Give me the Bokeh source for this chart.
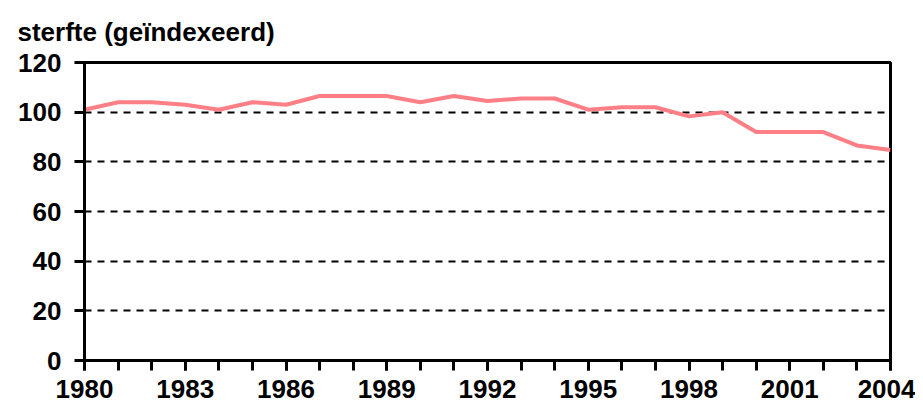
from bokeh.plotting import figure
from bokeh.models import Range1d, SingleIntervalTicker
from bokeh.embed import file_html
from bokeh.resources import INLINE

years = list(range(1980, 2005))
sterfte = [101, 104, 104, 103, 101, 104, 103, 106.5, 106.5, 106.5, 104, 106.5, 104.5,
           105.5, 105.5, 101, 102, 102, 98.3, 100, 92, 92, 92, 86.6, 84.8]
title_text = "sterfte (geïndexeerd)"

FONT = "Liberation Sans"

p = figure(width=915, height=404, output_backend="svg", toolbar_location=None,
           x_range=Range1d(1980, 2004), y_range=Range1d(0, 120),
           min_border_left=84, min_border_right=25, min_border_top=62, min_border_bottom=44)
p.background_fill_color = "white"
p.border_fill_color = "white"
p.outline_line_color = "black"
p.outline_line_width = 3

p.title.text = title_text
p.title.align = "left"
p.title.vertical_align = "top"
p.title.offset = -67
p.title.text_font = FONT
p.title.text_font_size = "26px"
p.title.text_font_style = "bold"
p.title.text_color = "black"
p.title.standoff = 27

p.line(years, sterfte, line_color="#FF7F86", line_width=4)

p.xaxis.ticker = SingleIntervalTicker(interval=3, num_minor_ticks=3)
p.yaxis.ticker = SingleIntervalTicker(interval=20, num_minor_ticks=0)

for ax in (p.xaxis, p.yaxis):
    ax.axis_line_color = "black"
    ax.axis_line_width = 3
    ax.major_tick_line_color = "black"
    ax.major_tick_line_width = 3
    ax.major_tick_out = 10
    ax.major_tick_in = 0
    ax.minor_tick_line_color = "black"
    ax.minor_tick_line_width = 3
    ax.minor_tick_out = 10
    ax.minor_tick_in = 0
    ax.major_label_text_font = FONT
    ax.major_label_text_font_size = "26px"
    ax.major_label_text_font_style = "bold"
    ax.major_label_text_color = "black"

p.yaxis.minor_tick_line_color = None
p.yaxis.major_label_standoff = 13
p.xaxis.major_label_standoff = 9

p.xgrid.grid_line_color = None
p.ygrid.grid_line_color = "black"
p.ygrid.grid_line_width = 2
p.ygrid.grid_line_dash = "7 6"

open("out.html", "w").write(file_html(p, INLINE))
